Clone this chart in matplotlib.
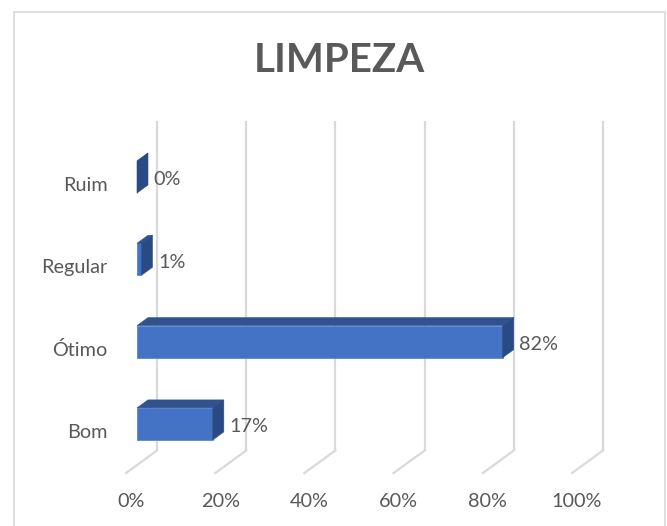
import matplotlib
matplotlib.use("Agg")
import matplotlib.pyplot as plt
from matplotlib.patches import Rectangle, Polygon

# ---- data ----
title = "LIMPEZA"
categories = ["Bom", "Ótimo", "Regular", "Ruim"]
values = [17, 82, 1, 0]
value_labels = ["17%", "82%", "1%", "0%"]
ticks = [0, 20, 40, 60, 80, 100]
tick_labels = ["0%", "20%", "40%", "60%", "80%", "100%"]

# ---- style ----
W, H, DPI = 667, 526, 100
FRONT = "#4472C4"
TOP = "#30528F"
SIDE = "#2A4A85"
GRID = "#D9D9D9"
TXT = "#595959"
FONT = "Lato"
FS = 14.3

fig = plt.figure(figsize=(W / DPI, H / DPI), dpi=DPI)
fig.patch.set_facecolor("white")

# axes box = front plane of bars
px_per_pct = 4.46
px_per_cat = 82.3
left_px, top_cat_px = 137, 177
ax_w = 100 * px_per_pct
ax_top = top_cat_px - 0.5 * px_per_cat
ax_h = 4 * px_per_cat
ax = fig.add_axes([left_px / W, (H - (ax_top + ax_h)) / H, ax_w / W, ax_h / H])
ax.set_xlim(0, 100)
ax.set_ylim(-0.5, 3.5)
ax.axis("off")

# depth vector (one bar depth) in data units
DX = 11 / px_per_pct
DY = 8 / px_per_cat
WALL_D = 20 / 11
FLOOR_D = -1.0
bar_h = 32 / px_per_cat

# chart border
fig.add_artist(Rectangle((14 / W, -0.05), (665 - 14) / W, (H - 12) / H + 0.05,
                         transform=fig.transFigure, fill=False,
                         edgecolor=GRID, linewidth=1.2))

# title
fig.text(339 / W, 1 - 60 / H, title, ha="center", va="center",
         fontsize=29, fontweight="bold", color=TXT, family=FONT)

# gridlines on back wall + floor
for t, lab in zip(ticks, tick_labels):
    xb = t + WALL_D * DX
    yb0 = -0.5 + WALL_D * DY
    yb1 = 3.5 + WALL_D * DY
    ax.plot([xb, xb], [yb0, yb1], color=GRID, lw=1.6, zorder=1, clip_on=False,
            solid_capstyle="butt")
    xf = t + FLOOR_D * DX
    yf = -0.5 + FLOOR_D * DY
    ax.plot([xb, xf], [yb0, yf], color=GRID, lw=1.6, zorder=1, clip_on=False)
    ax.annotate(lab, xy=(xf, yf), xytext=(3.5, -20.5), textcoords="offset points",
                ha="center", va="center", fontsize=FS, color=TXT,
                family=FONT, annotation_clip=False)

# bars
for i, (cat, v, vl) in enumerate(zip(categories, values, value_labels)):
    y0, y1 = i - bar_h / 2, i + bar_h / 2
    ax.add_patch(Rectangle((0, y0), v, bar_h, facecolor=FRONT,
                           edgecolor="#5B86D2", lw=0.6, zorder=3, clip_on=False))
    ax.add_patch(Polygon([(0, y1), (v, y1), (v + DX, y1 + DY), (DX, y1 + DY)],
                         closed=True, facecolor=TOP, edgecolor=TOP, lw=0.4,
                         zorder=3, clip_on=False))
    ax.add_patch(Polygon([(v, y0), (v + DX, y0 + DY), (v + DX, y1 + DY), (v, y1)],
                         closed=True, facecolor=SIDE, edgecolor=SIDE, lw=0.4,
                         zorder=3, clip_on=False))
    ax.annotate(vl, xy=(v + DX, i), xytext=(4.0, -2.0), textcoords="offset points",
                ha="left", va="center", fontsize=FS, color=TXT, family=FONT,
                annotation_clip=False)
    ax.annotate(cat, xy=(0, i), xytext=(-21, -6), textcoords="offset points",
                ha="right", va="center", fontsize=FS, color=TXT, family=FONT,
                annotation_clip=False)

fig.savefig("out.png", dpi=DPI, facecolor="white")
